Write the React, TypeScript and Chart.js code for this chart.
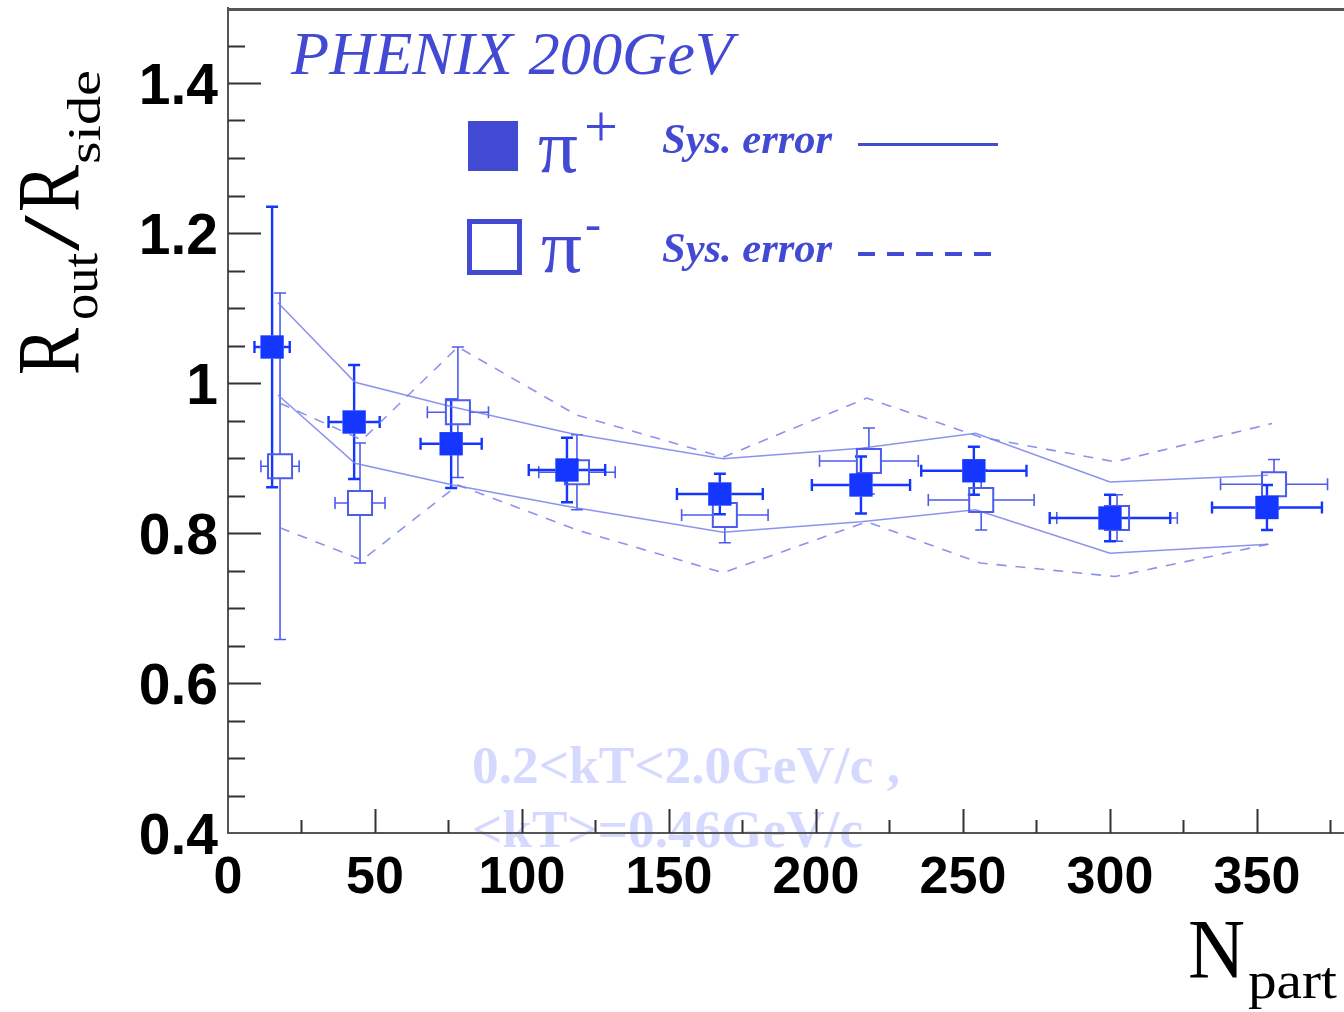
import { useEffect, useRef } from "react";
import { Chart, registerables } from "chart.js";

Chart.register(...registerables);

// ---- data ----
const nPartPlus = [15.0, 42.9, 75.9, 115.3, 167.3, 215.3, 253.7, 300.0, 353.4];
const ratioPlus = [1.048, 0.948, 0.919, 0.884, 0.852, 0.864, 0.883, 0.82, 0.834];
const errYPlus = [0.187, 0.076, 0.059, 0.043, 0.027, 0.038, 0.032, 0.031, 0.03];
const errXPlus = [6.0, 8.7, 10.4, 13.0, 14.6, 16.7, 17.9, 20.5, 18.7];

const nPartMinus = [17.7, 44.9, 78.2, 118.7, 169.0, 218.0, 256.2, 302.4, 355.8];
const ratioMinus = [0.889, 0.84, 0.961, 0.881, 0.824, 0.896, 0.844, 0.82, 0.865];
const errYMinus = [0.231, 0.08, 0.087, 0.05, 0.037, 0.044, 0.04, 0.031, 0.033];
const errXMinus = [6.5, 8.5, 10.4, 13.0, 14.7, 16.8, 18.0, 20.5, 18.2];

const sysPlusX = [17.0, 43.2, 76.5, 116.3, 168.4, 215.3, 254.3, 300.0, 353.7];
const sysPlusHigh = [1.107, 1.001, 0.968, 0.933, 0.899, 0.913, 0.933, 0.868, 0.877];
const sysPlusLow = [0.984, 0.893, 0.864, 0.835, 0.801, 0.815, 0.831, 0.773, 0.785];

const sysMinusX = [17.7, 45.6, 78.2, 118.7, 168.4, 217.3, 255.8, 301.7, 355.1];
const sysMinusHigh = [0.973, 0.924, 1.048, 0.957, 0.901, 0.98, 0.928, 0.895, 0.946];
const sysMinusLow = [0.807, 0.764, 0.864, 0.804, 0.747, 0.815, 0.76, 0.742, 0.786];

const xTickLabels = ["0", "50", "100", "150", "200", "250", "300", "350"];
const yTickLabels = ["0.4", "0.6", "0.8", "1", "1.2", "1.4"];

const BLUE = "#1436ff";
const OPEN_BLUE = "#4d5cec";
const TEXT_BLUE = "#4249d2";
const SYS_COLOR = "rgba(120,128,234,0.85)";
const FAINT = "#d6d9ff";

function pts(xs: number[], ys: number[]) {
  return xs.map((x, i) => ({ x, y: ys[i] }));
}

function fitText(
  ctx: CanvasRenderingContext2D,
  text: string,
  x: number,
  y: number,
  font: string,
  width: number,
  color: string
) {
  ctx.save();
  ctx.font = font;
  ctx.fillStyle = color;
  ctx.textBaseline = "alphabetic";
  ctx.textAlign = "left";
  const w = ctx.measureText(text).width || 1;
  ctx.translate(x, y);
  ctx.scale(width / w, 1);
  ctx.fillText(text, 0, 0);
  ctx.restore();
}

const errorBarPlugin = {
  id: "errorBars",
  beforeDatasetsDraw(chart: any) {
    const { ctx, scales } = chart;
    const xs = scales.x;
    const ys = scales.y;
    const groups = [
      { x: nPartMinus, y: ratioMinus, ex: errXMinus, ey: errYMinus, color: OPEN_BLUE, lw: 1.6, gap: 12 },
      { x: nPartPlus, y: ratioPlus, ex: errXPlus, ey: errYPlus, color: BLUE, lw: 2.4, gap: 11.5 },
    ];
    ctx.save();
    for (const g of groups) {
      ctx.strokeStyle = g.color;
      ctx.lineWidth = g.lw;
      for (let i = 0; i < g.x.length; i++) {
        const cx = xs.getPixelForValue(g.x[i]);
        const cy = ys.getPixelForValue(g.y[i]);
        const x1 = xs.getPixelForValue(g.x[i] - g.ex[i]);
        const x2 = xs.getPixelForValue(g.x[i] + g.ex[i]);
        const y1 = ys.getPixelForValue(g.y[i] + g.ey[i]);
        const y2 = ys.getPixelForValue(g.y[i] - g.ey[i]);
        const cap = 6;
        ctx.beginPath();
        if (cy - y1 > g.gap) {
          ctx.moveTo(cx, cy - g.gap);
          ctx.lineTo(cx, y1);
          ctx.moveTo(cx - cap, y1);
          ctx.lineTo(cx + cap, y1);
        }
        if (y2 - cy > g.gap) {
          ctx.moveTo(cx, cy + g.gap);
          ctx.lineTo(cx, y2);
          ctx.moveTo(cx - cap, y2);
          ctx.lineTo(cx + cap, y2);
        }
        if (cx - x1 > g.gap) {
          ctx.moveTo(cx - g.gap, cy);
          ctx.lineTo(x1, cy);
          ctx.moveTo(x1, cy - cap);
          ctx.lineTo(x1, cy + cap);
        }
        if (x2 - cx > g.gap) {
          ctx.moveTo(cx + g.gap, cy);
          ctx.lineTo(x2, cy);
          ctx.moveTo(x2, cy - cap);
          ctx.lineTo(x2, cy + cap);
        }
        ctx.stroke();
      }
    }
    ctx.restore();
  },
};

const decorPlugin = {
  id: "decor",
  beforeDraw(chart: any) {
    const { ctx } = chart;
    ctx.save();
    ctx.fillStyle = "#ffffff";
    ctx.fillRect(0, 0, chart.width, chart.height);
    ctx.restore();
    fitText(ctx, "0.2<kT<2.0GeV/c ,", 472, 783, 'bold 52px "Liberation Serif"', 428, FAINT);
    fitText(ctx, "<kT>=0.46GeV/c", 472, 847, 'bold 52px "Liberation Serif"', 391, FAINT);
  },
  afterDraw(chart: any) {
    const { ctx, chartArea, scales } = chart;
    const xs = scales.x;
    const ys = scales.y;
    ctx.save();
    // top frame line
    ctx.strokeStyle = "#555";
    ctx.lineWidth = 3;
    ctx.beginPath();
    ctx.moveTo(chartArea.left, chartArea.top + 1.5);
    ctx.lineTo(chart.width, chartArea.top + 1.5);
    ctx.stroke();

    // inward tick marks
    ctx.strokeStyle = "#333";
    ctx.lineWidth = 2;
    ctx.beginPath();
    ys.ticks.forEach((t: any) => {
      const v = t.value;
      if (v >= ys.max - 1e-9 || v <= ys.min + 1e-9) return;
      const p = Math.round(ys.getPixelForValue(v)) + 0.5;
      const major = Math.round(v * 100) % 20 === 0;
      ctx.moveTo(chartArea.left, p);
      ctx.lineTo(chartArea.left + (major ? 33 : 17), p);
    });
    xs.ticks.forEach((t: any) => {
      const v = t.value;
      if (v <= xs.min + 1e-9) return;
      const p = Math.round(xs.getPixelForValue(v)) + 0.5;
      const major = Math.round(v) % 50 === 0;
      ctx.moveTo(p, chartArea.bottom);
      ctx.lineTo(p, chartArea.bottom - (major ? 24 : 13));
    });
    ctx.stroke();
    ctx.restore();

    // y-axis title  R_out / R_side
    ctx.save();
    ctx.translate(78, 375);
    ctx.rotate(-Math.PI / 2);
    fitText(ctx, "R", 0, 0, '88px "Liberation Serif"', 47, "#000");
    fitText(ctx, "out", 55, 19, '50px "Liberation Serif"', 67, "#000");
    fitText(ctx, "/", 124, 0, '80px "Liberation Serif"', 36, "#000");
    fitText(ctx, "R", 163, 0, '88px "Liberation Serif"', 47, "#000");
    fitText(ctx, "side", 211, 22, '46px "Liberation Serif"', 94, "#000");
    ctx.restore();

    // x-axis title N_part
    fitText(ctx, "N", 1188, 978, '84px "Liberation Serif"', 57, "#000");
    fitText(ctx, "part", 1248, 998, '52px "Liberation Serif"', 89, "#000");

    // header
    fitText(ctx, "PHENIX 200GeV", 291, 74, 'italic 62px "Liberation Serif"', 442, TEXT_BLUE);

    // legend
    ctx.save();
    ctx.fillStyle = TEXT_BLUE;
    ctx.fillRect(468, 121, 50, 50);
    ctx.strokeStyle = TEXT_BLUE;
    ctx.lineWidth = 5;
    ctx.strokeRect(469.5, 221.5, 50, 51);
    ctx.lineWidth = 3;
    ctx.beginPath();
    ctx.moveTo(858, 144.5);
    ctx.lineTo(998, 144.5);
    ctx.stroke();
    ctx.lineWidth = 4;
    ctx.setLineDash([17, 12]);
    ctx.beginPath();
    ctx.moveTo(858, 254);
    ctx.lineTo(1002, 254);
    ctx.stroke();
    ctx.restore();
    fitText(ctx, "\u03c0", 538, 172, '76px "Liberation Serif"', 40, TEXT_BLUE);
    fitText(ctx, "+", 584, 146, '60px "Liberation Serif"', 34, TEXT_BLUE);
    fitText(ctx, "\u03c0", 541, 272, '76px "Liberation Serif"', 41, TEXT_BLUE);
    fitText(ctx, "-", 585, 240, '48px "Liberation Serif"', 16, TEXT_BLUE);
    fitText(ctx, "Sys. error", 662, 153, 'bold italic 42px "Liberation Serif"', 170, TEXT_BLUE);
    fitText(ctx, "Sys. error", 662, 262, 'bold italic 42px "Liberation Serif"', 170, TEXT_BLUE);
  },
};

export default function App() {
  const canvasRef = useRef<HTMLCanvasElement | null>(null);

  useEffect(() => {
    const canvas = canvasRef.current;
    if (!canvas) return;
    const chart = new Chart(canvas, {
      type: "scatter",
      data: {
        datasets: [
          {
            label: "pi+",
            data: pts(nPartPlus, ratioPlus),
            pointStyle: "rect",
            pointRadius: 16.5,
            backgroundColor: BLUE,
            borderColor: BLUE,
            borderWidth: 0,
          },
          {
            label: "pi-",
            data: pts(nPartMinus, ratioMinus),
            pointStyle: "rect",
            pointRadius: 17,
            backgroundColor: "rgba(255,255,255,0)",
            borderColor: OPEN_BLUE,
            borderWidth: 2,
          },
          {
            label: "sys+ high",
            data: pts(sysPlusX, sysPlusHigh),
            showLine: true,
            pointRadius: 0,
            borderColor: SYS_COLOR,
            borderWidth: 1.6,
          },
          {
            label: "sys+ low",
            data: pts(sysPlusX, sysPlusLow),
            showLine: true,
            pointRadius: 0,
            borderColor: SYS_COLOR,
            borderWidth: 1.6,
          },
          {
            label: "sys- high",
            data: pts(sysMinusX, sysMinusHigh),
            showLine: true,
            pointRadius: 0,
            borderColor: SYS_COLOR,
            borderWidth: 1.6,
            borderDash: [10, 9],
          },
          {
            label: "sys- low",
            data: pts(sysMinusX, sysMinusLow),
            showLine: true,
            pointRadius: 0,
            borderColor: SYS_COLOR,
            borderWidth: 1.6,
            borderDash: [10, 9],
          },
        ],
      },
      options: {
        animation: false,
        responsive: false,
        maintainAspectRatio: false,
        events: [],
        layout: { autoPadding: false, padding: { top: 8, left: 0, right: 0, bottom: 0 } },
        plugins: { legend: { display: false }, tooltip: { enabled: false } },
        scales: {
          x: {
            type: "linear",
            min: 0,
            max: 379.6,
            afterFit: (s: any) => {
              s.height = 179;
              s.paddingLeft = 0;
              s.paddingRight = 0;
            },
            grid: { drawOnChartArea: false, drawTicks: false },
            border: { display: true, color: "#555", width: 2 },
            ticks: {
              stepSize: 25,
              autoSkip: false,
              maxRotation: 0,
              includeBounds: false,
              padding: 14,
              color: "#000",
              font: { family: '"Liberation Sans", Arial, sans-serif', size: 52, weight: "bold" },
              callback: (v: any) => xTickLabels.find((l) => Math.abs(parseFloat(l) - Number(v)) < 1e-6) ?? "",
            },
          },
          y: {
            type: "linear",
            min: 0.4,
            max: 1.5,
            afterFit: (s: any) => {
              s.width = 228;
              s.paddingTop = 0;
              s.paddingBottom = 0;
            },
            grid: { drawOnChartArea: false, drawTicks: false },
            border: { display: true, color: "#555", width: 2 },
            ticks: {
              stepSize: 0.05,
              autoSkip: false,
              includeBounds: false,
              padding: 10,
              labelOffset: 5,
              color: "#000",
              font: { family: '"Liberation Sans", Arial, sans-serif', size: 57, weight: "bold" },
              callback: (v: any) => yTickLabels.find((l) => Math.abs(parseFloat(l) - Number(v)) < 1e-6) ?? "",
            },
          },
        },
      },
      plugins: [errorBarPlugin, decorPlugin],
    } as any);
    return () => chart.destroy();
  }, []);

  return (
    <div style={{ position: "fixed", left: 0, top: 0, width: 1344, height: 1012, background: "#fff" }}>
      <canvas ref={canvasRef} width={1344} height={1012} style={{ display: "block" }} />
    </div>
  );
}
